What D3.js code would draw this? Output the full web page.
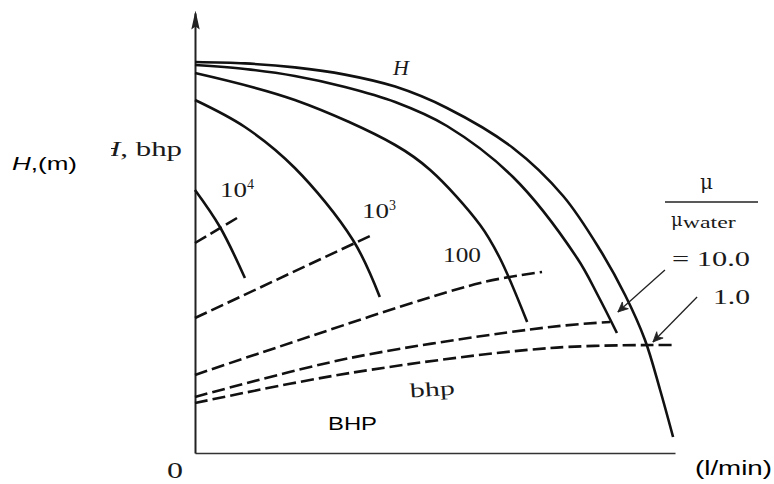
<!DOCTYPE html>
<html>
<head>
<meta charset="utf-8">
<script src="https://cdn.jsdelivr.net/npm/d3@7"></script>
<style>
  body { margin: 0; background: #fff; }
  .serif { font-family: "Liberation Serif", "DejaVu Serif", serif; fill: #1a1a1a; }
  .sans { font-family: "Liberation Sans", "Open Sans", sans-serif; fill: #000; }
</style>
</head>
<body>
<svg id="chart"></svg>
<script>
// head curves for each viscosity ratio (flow, head)
const ratios = ["1", "10", "100", "1000", "10000"];
const headRatio1 = [[0, 97.75], [10.4, 97.4], [20.8, 96.4], [31.25, 94.6], [41.7, 91.6], [52.5, 86.25], [66.25, 76.25], [76.7, 64.25], [84.4, 50.75], [89.6, 39.5], [93.75, 28.25], [96.9, 15.75], [99.6, 4]];
const headRatio10 = [[0, 97], [10.4, 96], [20.8, 94.25], [31.25, 91.5], [41.7, 87.75], [52.5, 81.75], [66.25, 69], [79.6, 48.75], [84, 39.25], [87.9, 30]];
const headRatio100 = [[0, 95], [20.8, 88.25], [41.7, 77], [49, 70.75], [59.4, 57], [63.5, 48.75], [69.2, 32.75]];
const headRatio1000 = [[0, 88.25], [10.4, 81.5], [20.8, 71.25], [32.9, 53.25], [38.5, 39]];
const headRatio10000 = [[0, 65.75], [5.2, 56.5], [10.4, 43.75]];

// brake horsepower curves (dashed)
const bhpRatio1 = [[0, 12.5], [32.3, 20], [74, 26.25], [99.4, 27]];
const bhpRatio10 = [[0, 14], [32.3, 23.75], [74, 31.5], [86.5, 32.75]];
const bhpRatio100 = [[0, 19.5], [14.2, 25.25], [59.4, 42.5], [72.3, 45.25]];
const bhpRatio1000 = [[0, 33.75], [36.9, 54.5]];
const bhpRatio10000 = [[0, 52.5], [8.75, 58.75]];

// leader arrows from the ratio labels: [from, to]
const arrow10 = [[97.9, 45.75], [88.1, 35.25]];
const arrow1 = [[104.6, 39], [95.4, 27.75]];

const width = 774;
const height = 484;

const svg = d3.select("#chart")
    .attr("width", width)
    .attr("height", height);

svg.append("rect").attr("width", width).attr("height", height).attr("fill", "#fff");

const x = d3.scaleLinear().domain([0, 100]).range([195, 675]);
const y = d3.scaleLinear().domain([0, 110]).range([453, 13]);

const defs = svg.append("defs");
defs.append("marker")
    .attr("id", "axisHead")
    .attr("viewBox", "0 0 20 10")
    .attr("refX", 17).attr("refY", 5)
    .attr("markerWidth", 20).attr("markerHeight", 10)
    .attr("markerUnits", "userSpaceOnUse")
    .attr("orient", "auto")
    .append("path")
    .attr("d", "M20,5 L1,0.8 L4,5 L1,9.2 Z")
    .attr("fill", "#222");
defs.append("marker")
    .attr("id", "leaderHead")
    .attr("viewBox", "0 0 12 12")
    .attr("refX", 11).attr("refY", 6)
    .attr("markerWidth", 12).attr("markerHeight", 12)
    .attr("markerUnits", "userSpaceOnUse")
    .attr("orient", "auto")
    .append("path")
    .attr("d", "M1,1.5 L11,6 L1,10.5 L4,6 Z")
    .attr("fill", "#222")
    .attr("stroke", "#222")
    .attr("stroke-width", 0.8);
defs.append("clipPath")
    .attr("id", "labelClip")
    .append("rect")
    .attr("x", 111).attr("y", 130).attr("width", 80).attr("height", 40);

// axes, no ticks
const xAxis = svg.append("g")
    .attr("transform", `translate(0, ${y(0)})`)
    .call(d3.axisBottom(x).tickValues([]).tickSizeOuter(0));
xAxis.select(".domain").attr("stroke", "#333").attr("stroke-width", 1.6);

const yAxis = svg.append("g")
    .attr("transform", `translate(${x(0)}, 0)`)
    .call(d3.axisLeft(y).tickValues([]).tickSizeOuter(0));
yAxis.select(".domain")
    .attr("stroke", "#222")
    .attr("stroke-width", 2)
    .attr("marker-end", "url(#axisHead)");

const line = d3.line()
    .x(d => x(d[0]))
    .y(d => y(d[1]))
    .curve(d3.curveCatmullRom.alpha(0.5));

const headCurves = [headRatio1, headRatio10, headRatio100, headRatio1000, headRatio10000];
const bhpCurves = [bhpRatio1, bhpRatio10, bhpRatio100, bhpRatio1000, bhpRatio10000];

svg.append("g").selectAll("path")
    .data(headCurves)
    .join("path")
    .attr("d", line)
    .attr("fill", "none")
    .attr("stroke", "#111")
    .attr("stroke-width", 2.6);

svg.append("g").selectAll("path")
    .data(bhpCurves)
    .join("path")
    .attr("d", line)
    .attr("fill", "none")
    .attr("stroke", "#111")
    .attr("stroke-width", 2.6)
    .attr("stroke-dasharray", "13,5");

svg.append("g").selectAll("line")
    .data([arrow10, arrow1])
    .join("line")
    .attr("x1", d => x(d[0][0])).attr("y1", d => y(d[0][1]))
    .attr("x2", d => x(d[1][0])).attr("y2", d => y(d[1][1]))
    .attr("stroke", "#222")
    .attr("stroke-width", 1.3)
    .attr("marker-end", "url(#leaderHead)");

// labels
svg.append("text").attr("class", "serif")
    .attr("x", 393).attr("y", 75)
    .attr("font-size", 22).attr("font-style", "italic")
    .text("H");

function power(xp, yp, base, exp, len) {
    const t = svg.append("text").attr("class", "serif").attr("x", xp).attr("y", yp).attr("font-size", 21);
    t.append("tspan").attr("textLength", len).attr("lengthAdjust", "spacingAndGlyphs").text(base);
    if (exp) t.append("tspan").attr("dy", -8).attr("font-size", 14).text(exp);
}
power(220, 197, "10", "4", 27);
power(362, 218, "10", "3", 27);
power(443, 262, "100", null, 38);

svg.append("text").attr("class", "serif")
    .attr("x", 700).attr("y", 189).attr("font-size", 20)
    .style("font-family", "'DejaVu Serif', serif")
    .text("μ");
svg.append("line")
    .attr("x1", 665).attr("x2", 758).attr("y1", 202).attr("y2", 202)
    .attr("stroke", "#222").attr("stroke-width", 1.3);
const muw = svg.append("text").attr("class", "serif").attr("x", 671).attr("y", 226).attr("font-size", 17);
muw.append("tspan").attr("font-size", 18).style("font-family", "'DejaVu Serif', serif").text("μ");
muw.append("tspan").attr("dy", 2)
    .attr("textLength", 53).attr("lengthAdjust", "spacingAndGlyphs").text("water");
svg.append("text").attr("class", "serif")
    .attr("x", 672).attr("y", 266).attr("font-size", 22)
    .attr("textLength", 78).attr("lengthAdjust", "spacingAndGlyphs")
    .text("= 10.0");
svg.append("text").attr("class", "serif")
    .attr("x", 713).attr("y", 304).attr("font-size", 22)
    .attr("textLength", 37).attr("lengthAdjust", "spacingAndGlyphs")
    .text("1.0");

svg.append("text").attr("class", "serif")
    .attr("x", 98).attr("y", 156).attr("font-size", 20)
    .attr("clip-path", "url(#labelClip)")
    .attr("textLength", 84).attr("lengthAdjust", "spacingAndGlyphs")
    .html('<tspan font-style="italic">H</tspan>, bhp');

svg.append("text").attr("class", "serif")
    .attr("x", 410).attr("y", 396).attr("font-size", 20)
    .attr("transform", "rotate(-4, 432, 392)")
    .attr("textLength", 45).attr("lengthAdjust", "spacingAndGlyphs")
    .text("bhp");

svg.append("text").attr("class", "serif")
    .attr("x", 167).attr("y", 478).attr("font-size", 24)
    .attr("textLength", 16).attr("lengthAdjust", "spacingAndGlyphs")
    .text("0");

svg.append("text").attr("class", "sans")
    .attr("x", 12).attr("y", 170).attr("font-size", 19)
    .attr("textLength", 65).attr("lengthAdjust", "spacingAndGlyphs")
    .html('<tspan font-style="italic">H</tspan>,(m)');

svg.append("text").attr("class", "sans")
    .attr("x", 328).attr("y", 430).attr("font-size", 19)
    .attr("textLength", 49).attr("lengthAdjust", "spacingAndGlyphs")
    .text("BHP");

svg.append("text").attr("class", "sans")
    .attr("x", 695).attr("y", 475).attr("font-size", 20)
    .attr("textLength", 77).attr("lengthAdjust", "spacingAndGlyphs")
    .text("(l/min)");
</script>
</body>
</html>
